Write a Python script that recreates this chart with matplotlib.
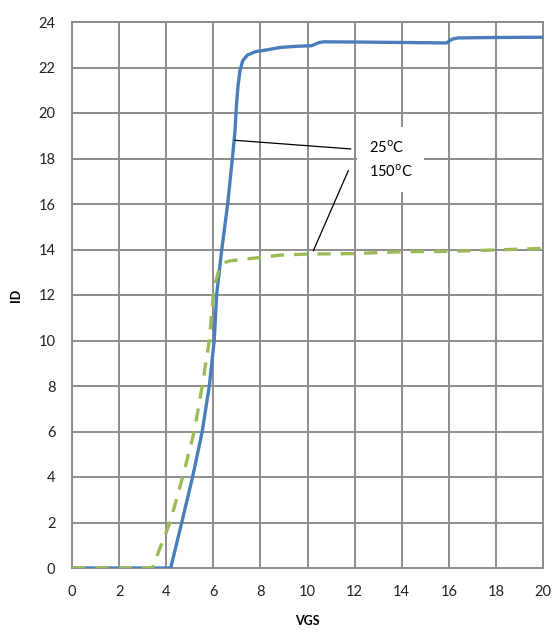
import matplotlib
matplotlib.use("Agg")
import matplotlib.pyplot as plt

# Transfer characteristic: drain current vs gate-source voltage
vgs_25 = [0, 1, 2, 3, 4.0, 4.19, 4.66, 5.12, 5.53, 5.83, 6.04, 6.14, 6.36, 6.61, 6.81,
          6.92, 6.98, 7.05, 7.13, 7.25, 7.45, 7.8, 8.3, 8.83, 9.5, 10.18, 10.5, 10.7,
          12, 14, 15.9, 16.15, 16.4, 18, 20]
id_25 = [0, 0, 0, 0, 0, 0, 2, 4, 6, 8, 10, 12, 14, 16, 18,
         19.2, 20.3, 21.2, 21.85, 22.3, 22.55, 22.7, 22.78, 22.88, 22.93, 22.96, 23.1, 23.13,
         23.12, 23.1, 23.08, 23.25, 23.3, 23.32, 23.33]

vgs_150 = [0, 1, 2, 3, 3.41, 4.16, 4.70, 5.19, 5.53, 5.83, 6.0, 6.1, 6.24, 6.4, 6.71,
           7.98, 8.8, 10, 12, 14, 16, 18, 20]
id_150 = [0, 0, 0, 0, 0, 2, 4, 6, 8, 10, 12, 12.6, 13.1, 13.4, 13.5,
          13.65, 13.75, 13.8, 13.82, 13.9, 13.92, 13.98, 14.05]

x_ticks = list(range(0, 21, 2))
y_ticks = list(range(0, 25, 2))

plt.rcParams['font.family'] = ['Lato', 'DejaVu Sans']

fig = plt.figure(figsize=(5.58, 6.33), dpi=100)
ax = fig.add_axes([72 / 558, 1 - 568 / 633, 471 / 558, 546 / 633])

ax.plot(vgs_25, id_25, color='#4A7EBB', lw=2.4, solid_capstyle='round',
        solid_joinstyle='round', zorder=3)
ax.plot(vgs_150, id_150, color='#9BBB59', lw=2.4, dashes=(4, 3), zorder=3)

ax.set_xlim(0, 20)
ax.set_ylim(0, 24)
ax.set_xticks(x_ticks)
ax.set_yticks(y_ticks)
ax.grid(True, color='#8c8c8c', lw=1.4)
ax.set_axisbelow(True)
for s in ax.spines.values():
    s.set_color('#8c8c8c')
    s.set_linewidth(1.4)
ax.tick_params(length=0, labelsize=10.5, colors='#222222', pad=12)

ax.set_xlabel('VGS', fontsize=9, fontweight='bold', labelpad=12)
ax.set_ylabel('ID', fontsize=9, fontweight='bold', labelpad=12)

# Leader lines from each curve to the label box
ax.plot([6.92, 11.83], [18.8, 18.42], color='black', lw=0.9, zorder=4)
ax.plot([10.25, 11.73], [13.95, 17.46], color='black', lw=0.9, zorder=4)

ax.text(12.6, 17.95, '25$^{\\mathrm{o}}$C\n150$^{\\mathrm{o}}$C', fontsize=10.5,
        va='center', ha='left', linespacing=1.6, zorder=5,
        bbox=dict(boxstyle='square,pad=0.8', fc='white', ec='none'))

fig.savefig('out.png', dpi=100)
